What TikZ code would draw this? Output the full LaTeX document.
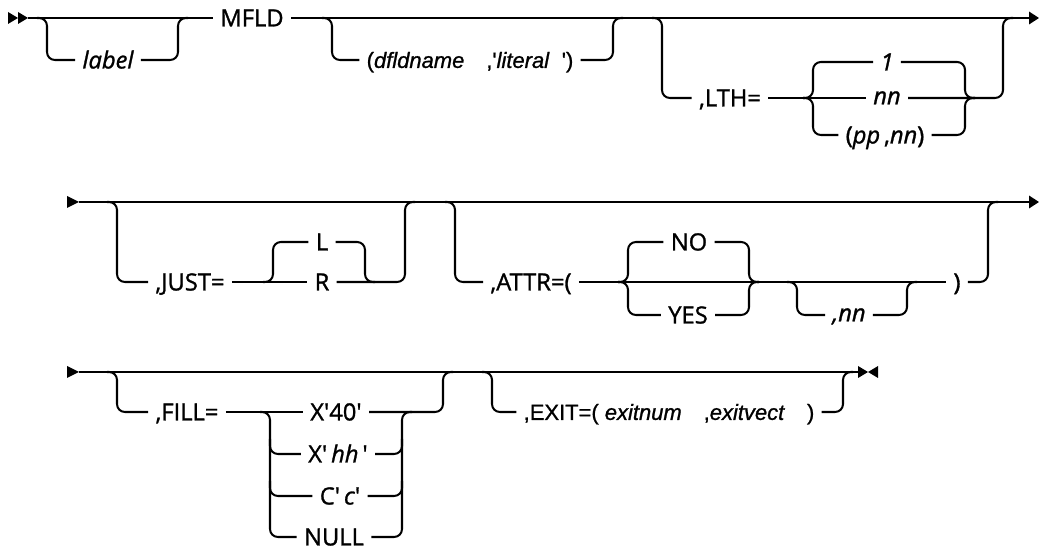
\documentclass[tikz,border=0pt]{standalone}
\usepackage{fontspec}
\setmainfont{Open Sans}[FakeBold=1.2]
\newfontfamily\arialfont{Liberation Sans}[FakeBold=1]
\usepackage{tikz}
\usetikzlibrary{arrows.meta, positioning, calc}

\newcommand{\sq}{\textquotesingle}

\begin{document}
\begin{tikzpicture}[x=0.02cm, y=-0.02cm,
  track/.style={line width=1.15pt, rounded corners=4.5pt},
  endarrow/.style={-{Triangle[length=5.6pt, width=7pt]}},
  kw/.style={font=\fontsize{13.5}{15}\selectfont, text height=9.6pt, text depth=0pt, inner ysep=0pt, inner xsep=4pt},
  var/.style={kw, font=\fontsize{13.5}{15}\selectfont\itshape},
  low/.style={var, text height=7.2pt},
  arial/.style={kw, font=\arialfont\fontsize{12.5}{14}\selectfont, text height=9pt}]
  \useasboundingbox (0,0) rectangle (1039,550);

  % Row 1: label, MFLD, (dfldname,'literal'), LTH=
  \coordinate (r1s) at (28,18);
  \coordinate (r1e) at (1039,18);
  \fill (8,12) -- (18,18) -- (8,24) -- cycle;
  \fill (18,12) -- (28,18) -- (18,24) -- cycle;

  \node[var] (label) at (108,60) {label};
  \node[kw] (mfld) at (252,18) {MFLD};
  \node[arial] (dfld) at (470,60) {(\textit{dfldname}\quad,\sq\textit{literal}\ \ \sq)};
  \node[kw] (lth) at (730,98) {,LTH=\ };
  \node[var] (one) at (887,62) {1};
  \node[low] (nn) at (887,98) {nn};
  \node[kw] (ppnn) at (885,135) {(\textit{pp}\,,\textit{nn})};

  \coordinate (lbl1) at (47,18);
  \coordinate (lbl2) at (178,18);
  \coordinate (dfld1) at (332,18);
  \coordinate (dfld2) at (613,18);
  \coordinate (lth1) at (662,18);
  \coordinate (lth2) at (1003,18);
  \coordinate (lthc1) at (813,98);
  \coordinate (lthc2) at (965,98);

  \draw[track] (r1s) -- (mfld.west);
  \draw[track, endarrow] (mfld.east) -- (r1e);
  \draw[track] ($(lbl1)+(-10,0)$) -- (lbl1) |- (label.west);
  \draw[track] (label.east) -| (lbl2) -- ++(10,0);
  \draw[track] ($(dfld1)+(-10,0)$) -- (dfld1) |- (dfld.west);
  \draw[track] (dfld.east) -| (dfld2) -- ++(10,0);
  \draw[track] ($(lth1)+(-10,0)$) -- (lth1) |- (lth.west);
  \draw[track] (lth.east) -- (nn.west);
  \draw[track] ($(lthc1)+(-10,0)$) -- (lthc1) |- (one.west);
  \draw[track] ($(lthc1)+(-10,0)$) -- (lthc1) |- (ppnn.west);
  \draw[track] (one.east) -| (lthc2) -- ++(10,0);
  \draw[track] (ppnn.east) -| (lthc2) -- ++(10,0);
  \draw[track] (nn.east) -| (lth2) -- ++(10,0);

  % Row 2: JUST=, ATTR=(
  \coordinate (r2s) at (79,202);
  \coordinate (r2e) at (1039,202);
  \fill (67,196) -- (79,202) -- (67,208) -- cycle;

  \node[kw] (just) at (190,282) {,JUST=\ };
  \node[kw] (jl) at (322,242) {L};
  \node[kw] (jr) at (322,282) {R};
  \node[kw] (attr) at (531,282) {,ATTR=(\ };
  \node[kw] (no) at (689,242) {NO};
  \node[kw] (yes) at (688,315) {YES};
  \node[low] (cnn) at (849,315) {,nn};
  \node[kw] (paren) at (957,282) {)};

  \coordinate (just1) at (117,202);
  \coordinate (just2) at (405,202);
  \coordinate (justc1) at (273,282);
  \coordinate (justc2) at (365,282);
  \coordinate (attr1) at (455,202);
  \coordinate (attr2) at (988,202);
  \coordinate (attrc1) at (628,282);
  \coordinate (attrc2) at (749,282);
  \coordinate (cnn1) at (797,282);
  \coordinate (cnn2) at (907,282);

  \draw[track, endarrow] (r2s) -- (r2e);
  \draw[track] ($(just1)+(-10,0)$) -- (just1) |- (just.west);
  \draw[track] (just.east) -- (jr.west);
  \draw[track] ($(justc1)+(-10,0)$) -- (justc1) |- (jl.west);
  \draw[track] (jl.east) -| (justc2) -- ++(10,0);
  \draw[track] (jr.east) -| (just2) -- ++(10,0);
  \draw[track] ($(attr1)+(-10,0)$) -- (attr1) |- (attr.west);
  \draw[track] (attr.east) -- (paren.west);
  \draw[track] ($(attrc1)+(-10,0)$) -- (attrc1) |- (no.west);
  \draw[track] ($(attrc1)+(-10,0)$) -- (attrc1) |- (yes.west);
  \draw[track] (no.east) -| (attrc2) -- ++(10,0);
  \draw[track] (yes.east) -| (attrc2) -- ++(10,0);
  \draw[track] ($(cnn1)+(-10,0)$) -- (cnn1) |- (cnn.west);
  \draw[track] (cnn.east) -| (cnn2) -- ++(10,0);
  \draw[track] (paren.east) -| (attr2) -- ++(10,0);

  % Row 3: FILL=, EXIT=(
  \coordinate (r3s) at (79,372);
  \coordinate (r3e) at (858,372);
  \fill (67,366) -- (79,372) -- (67,378) -- cycle;
  \fill (858,366) -- (868,372) -- (858,378) -- cycle;
  \fill (878,366) -- (868,372) -- (878,378) -- cycle;

  \node[kw] (fill) at (187,412) {,FILL=\ };
  \node[kw] (x40) at (336,412) {X\sq40\sq};
  \node[kw] (xhh) at (338,454) {X\sq\,\textit{hh}\,\sq};
  \node[kw] (cc) at (340,496) {C\sq\,\textit{c}\sq};
  \node[kw] (null) at (334,537) {NULL};
  \node[arial] (exit) at (669,412) {,EXIT=(\ \textit{exitnum}\quad,\textit{exitvect}\quad)};

  \coordinate (fill1) at (117,372);
  \coordinate (fill2) at (443,372);
  \coordinate (fillc1) at (270,412);
  \coordinate (fillc2) at (402,412);
  \coordinate (exit1) at (492,372);
  \coordinate (exit2) at (843,372);

  \draw[track] (r3s) -- (r3e);
  \draw[track] ($(fill1)+(-10,0)$) -- (fill1) |- (fill.west);
  \draw[track] (fill.east) -- (x40.west);
  \draw[track] ($(fillc1)+(-10,0)$) -- (fillc1) |- (null.west);
  \draw[track] ($(xhh.west -| fillc1)+(0,-15)$) |- (xhh.west);
  \draw[track] ($(cc.west -| fillc1)+(0,-15)$) |- (cc.west);
  \draw[track] (null.east) -| (fillc2) -- ++(10,0);
  \draw[track] (xhh.east) -| ($(xhh.east -| fillc2)+(0,-15)$);
  \draw[track] (cc.east) -| ($(cc.east -| fillc2)+(0,-15)$);
  \draw[track] (x40.east) -| (fill2) -- ++(10,0);
  \draw[track] ($(exit1)+(-10,0)$) -- (exit1) |- (exit.west);
  \draw[track] (exit.east) -| (exit2) -- ++(10,0);
\end{tikzpicture}
\end{document}
